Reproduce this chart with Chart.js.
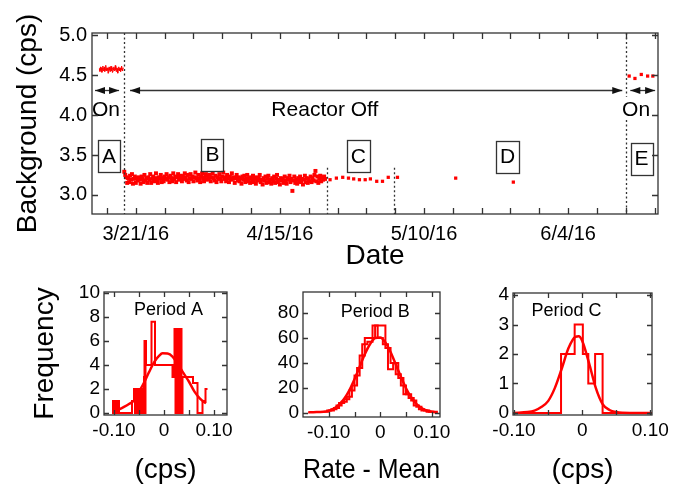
<!DOCTYPE html>
<html>
<head>
<meta charset="utf-8">
<title>Reactor background</title>
<script src="https://cdn.jsdelivr.net/npm/chart.js@4.4.1/dist/chart.umd.min.js"></script>
<style>
    html, body { margin: 0; padding: 0; background: #fff; }
    #wrap { position: relative; width: 680px; height: 487px; overflow: hidden; }
    #wrap canvas { position: absolute; left: 0; top: 0; }
</style>
</head>
<body>
<div id="wrap">
    <canvas id="mainChart" width="680" height="487"></canvas>
    <canvas id="histA" width="680" height="487"></canvas>
    <canvas id="histB" width="680" height="487"></canvas>
    <canvas id="histC" width="680" height="487"></canvas>
</div>
<script>
// Days are counted from 3/21/16
const xTickDays = [0, 25, 50, 75];
const xTickLabels = ['3/21/16', '4/15/16', '5/10/16', '6/4/16'];
const yTickValues = [3.0, 3.5, 4.0, 4.5, 5.0];

// period A: 2-hour runs, reactor on
const periodAStart = -6.3;
const periodAStep = 1 / 12;
const periodAValues = [
    4.58, 4.55, 4.60, 4.57, 4.59, 4.54, 4.58, 4.61, 4.56, 4.58,
    4.60, 4.55, 4.57, 4.62, 4.58, 4.56, 4.59, 4.57, 4.53, 4.58,
    4.60, 4.57, 4.55, 4.59, 4.61, 4.56, 4.58, 4.54, 4.59, 4.57,
    4.60, 4.56, 4.58, 4.62, 4.57, 4.55, 4.59, 4.58, 4.53, 4.57,
    4.60, 4.58, 4.56, 4.59, 4.55, 4.58, 4.61, 4.57, 4.56, 4.59
];

// period B: 4-hour runs, reactor off
const periodBStart = -2.0;
const periodBStep = 1 / 6;
const periodBValues = [
    3.29, 3.25, 3.22, 3.15, 3.21, 3.16, 3.24, 3.19, 3.26, 3.14, 3.20, 3.23, 3.15, 3.21, 3.18,
    3.22, 3.19, 3.14, 3.23, 3.20, 3.16, 3.25, 3.18, 3.21, 3.15, 3.22, 3.19, 3.26, 3.15, 3.20,
    3.23, 3.17, 3.21, 3.27, 3.19, 3.15, 3.22, 3.20, 3.25, 3.16, 3.21, 3.17, 3.23, 3.20, 3.26,
    3.19, 3.22, 3.16, 3.24, 3.21, 3.17, 3.27, 3.20, 3.23, 3.16, 3.22, 3.26, 3.19, 3.21, 3.24,
    3.17, 3.23, 3.20, 3.27, 3.22, 3.18, 3.25, 3.16, 3.21, 3.26, 3.20, 3.23, 3.17, 3.22, 3.28,
    3.21, 3.18, 3.25, 3.20, 3.16, 3.23, 3.27, 3.21, 3.17, 3.22, 3.26, 3.19, 3.24, 3.20, 3.25,
    3.17, 3.22, 3.27, 3.21, 3.18, 3.24, 3.16, 3.22, 3.20, 3.26, 3.21, 3.17, 3.23, 3.28, 3.20,
    3.22, 3.17, 3.25, 3.21, 3.16, 3.23, 3.19, 3.27, 3.20, 3.22, 3.15, 3.21, 3.25, 3.18, 3.22,
    3.17, 3.21, 3.14, 3.23, 3.19, 3.24, 3.16, 3.20, 3.25, 3.17, 3.21, 3.15, 3.22, 3.19, 3.24,
    3.16, 3.20, 3.14, 3.22, 3.18, 3.21, 3.25, 3.16, 3.19, 3.13, 3.21, 3.18, 3.23, 3.15, 3.20,
    3.24, 3.16, 3.19, 3.14, 3.21, 3.17, 3.23, 3.15, 3.20, 3.25, 3.16, 3.19, 3.13, 3.21, 3.18,
    3.20, 3.15, 3.23, 3.18, 3.14, 3.21, 3.19, 3.24, 3.16, 3.20, 3.05, 3.18, 3.23, 3.15, 3.19,
    3.14, 3.21, 3.17, 3.23, 3.16, 3.20, 3.13, 3.19, 3.24, 3.16, 3.21, 3.15, 3.20, 3.17, 3.23,
    3.16, 3.21, 3.18, 3.25, 3.30, 3.17, 3.23, 3.15, 3.20, 3.24, 3.17, 3.22, 3.19, 3.23, 3.20
];

const periodCDays = [33.7, 34.8, 35.9, 36.9, 37.8, 38.8, 39.8, 40.7, 41.8, 42.8, 43.8, 45.4];
const periodCValues = [3.19, 3.21, 3.22, 3.21, 3.20, 3.19, 3.19, 3.20, 3.17, 3.17, 3.22, 3.22];
const periodDDays = [55.5, 65.5];
const periodDValues = [3.21, 3.16];
const periodEDays = [85.6, 86.6, 87.7, 88.8, 89.7];
const periodEValues = [4.49, 4.46, 4.51, 4.49, 4.49];

// histograms of rate - mean (cps), bin left edge + count
const histAX = [-0.104, -0.102, -0.100, -0.098, -0.096, -0.094, -0.092, -0.090,
    -0.064, -0.060, -0.058, -0.056, -0.054, -0.052, -0.050, -0.048, -0.046, -0.044, -0.042, -0.040,
    -0.039, -0.038, -0.037, -0.036, -0.026, -0.025, -0.018, 0.005, 0.017,
    0.021, 0.023, 0.025, 0.027, 0.029, 0.031, 0.033, 0.035, 0.037, 0.052, 0.058, 0.067, 0.077, 0.083, 0.087];
const histACounts = [1, 0, 1, 0, 1, 0, 1, 0,
    1, 2, 0, 2, 0, 2, 0, 2, 0, 2, 0, 3,
    6, 0, 6, 4, 4, 7.6, 4, 4, 3,
    7, 0, 7, 0, 7, 0, 7, 0, 3, 3, 2.5, 0, 1, 2, 2];
const fitAX = [-0.096, -0.08, -0.07, -0.059, -0.05, -0.039, -0.03, -0.019, -0.01, -0.003,
    0.007, 0.017, 0.027, 0.037, 0.05, 0.061, 0.072, 0.084];
const fitAY = [0.17, 0.5, 0.75, 1.08, 1.75, 2.6, 3.4, 4.28, 4.75, 4.97,
    4.95, 4.7, 4.1, 3.44, 2.6, 1.78, 1.2, 0.8];

const histB1X = [-0.105, -0.095, -0.085, -0.075, -0.065, -0.055, -0.045, -0.035, -0.025, -0.015,
    -0.005, 0.005, 0.015, 0.025, 0.035, 0.045, 0.055, 0.065, 0.075, 0.085, 0.095, 0.105];
const histB1Counts = [2, 3, 6, 9, 13, 22, 36, 55, 57, 70, 60, 55, 35, 40, 28, 15, 12, 6, 3, 2, 1, 1];
const histB2X = [-0.110, -0.100, -0.090, -0.080, -0.070, -0.060, -0.050, -0.040, -0.030, -0.020,
    -0.010, 0.000, 0.010, 0.020, 0.030, 0.040, 0.050, 0.060, 0.070, 0.080, 0.090, 0.100, 0.110];
const histB2Counts = [1, 2, 4, 8, 11, 18, 30, 46, 60, 60, 70, 70, 52, 40, 31, 22, 15, 10, 5, 2, 1, 1, 0];
const fitBX = [-0.14, -0.13, -0.12, -0.11, -0.10, -0.09, -0.08, -0.07, -0.06, -0.05, -0.04, -0.03,
    -0.02, -0.01, 0.00, 0.01, 0.02, 0.03, 0.04, 0.05, 0.06, 0.07, 0.08, 0.09, 0.10, 0.11];
const fitBY = [0.5, 0.6, 0.8, 1.0, 1.7, 3.5, 6.6, 11.4, 18.2, 27, 37, 47,
    55, 60, 60.5, 56.5, 48.8, 39, 29, 19.8, 12.6, 7.4, 4, 2, 1, 0.5];

const histCX = [-0.102, -0.031, -0.011, 0.001, 0.009, 0.019, 0.030, 0.103];
const histCCounts = [0, 2, 3, 2, 1, 2, 0, 0];
const fitCX = [-0.1, -0.08, -0.07, -0.06, -0.05, -0.04, -0.03, -0.02, -0.01, -0.005,
    0.0, 0.01, 0.02, 0.03, 0.04, 0.05, 0.07, 0.1];
const fitCY = [0.0, 0.03, 0.08, 0.2, 0.4, 0.85, 1.5, 2.2, 2.58, 2.6,
    2.45, 1.7, 0.85, 0.3, 0.1, 0.03, 0.0, 0.0];

const histTickLabels = { '-0.1': '-0.10', '0': '0', '0.1': '0.10' };

// annotations of the top panel, in (day, cps)
const dividers = [
    { day: -2.1, spans: [[5.03, 2.76]] },
    { day: 33.1, spans: [[3.34, 2.76]] },
    { day: 44.8, spans: [[3.34, 2.76]] },
    { day: 85.1, spans: [[5.03, 4.23], [3.94, 2.76]] }
];
const arrowLevel = 4.315;
const arrows = [[-7.08, -2.9], [-1.0, 84.4], [85.8, 90.1]];
const stateLabels = [
    { text: 'On', day: -5.17, level: 4.06 },
    { text: 'Reactor Off', day: 32.8, level: 4.06 },
    { text: 'On', day: 86.8, level: 4.06 }
];
const periodBoxes = [
    { text: 'A', day: -4.65, level: 3.49 },
    { text: 'B', day: 13.3, level: 3.505 },
    { text: 'C', day: 38.6, level: 3.49 },
    { text: 'D', day: 64.5, level: 3.48 },
    { text: 'E', day: 87.75, level: 3.455 }
];

const RED = '#ff0000';
const INK = '#333333';
Chart.defaults.font.family = '"Liberation Sans", Arial, Helvetica, sans-serif';
Chart.defaults.color = '#000';

function pairs(xs, ys) {
    return xs.map((x, i) => ({ x, y: ys[i] }));
}

function evenSeries(start, step, values) {
    return values.map((v, i) => ({ x: start + i * step, y: v }));
}

// frame + inward tick marks on all four sides
const frameTicks = {
    id: 'frameTicks',
    afterDraw(chart, args, opts) {
        const { ctx, chartArea: a, scales } = chart;
        const len = opts.length || 5;
        ctx.save();
        ctx.strokeStyle = INK;
        ctx.lineWidth = 1.3;
        ctx.strokeRect(a.left, a.top, a.right - a.left, a.bottom - a.top);
        ctx.beginPath();
        scales.x.ticks.forEach(t => {
            const px = Math.round(scales.x.getPixelForValue(t.value)) + 0.5;
            ctx.moveTo(px, a.bottom); ctx.lineTo(px, a.bottom - len);
            ctx.moveTo(px, a.top); ctx.lineTo(px, a.top + len);
        });
        scales.y.ticks.forEach(t => {
            const py = Math.round(scales.y.getPixelForValue(t.value)) + 0.5;
            ctx.moveTo(a.left, py); ctx.lineTo(a.left + len, py);
            ctx.moveTo(a.right, py); ctx.lineTo(a.right - len, py);
        });
        ctx.stroke();
        ctx.restore();
    }
};

function drawArrow(ctx, x1, x2, y) {
    ctx.beginPath();
    ctx.moveTo(x1, y);
    ctx.lineTo(x2, y);
    ctx.stroke();
    [[x1, 1], [x2, -1]].forEach(([x, dir]) => {
        ctx.beginPath();
        ctx.moveTo(x, y);
        ctx.lineTo(x + dir * 10, y - 3.5);
        ctx.lineTo(x + dir * 10, y + 3.5);
        ctx.closePath();
        ctx.fill();
    });
}

const reactorNotes = {
    id: 'reactorNotes',
    afterDatasetsDraw(chart) {
        const { ctx, scales: { x, y } } = chart;
        ctx.save();
        ctx.strokeStyle = INK;
        ctx.fillStyle = '#111';
        ctx.lineWidth = 1.3;

        ctx.setLineDash([2, 2.5]);
        dividers.forEach(d => {
            const px = Math.round(x.getPixelForValue(d.day)) + 0.5;
            d.spans.forEach(([top, bottom]) => {
                ctx.beginPath();
                ctx.moveTo(px, y.getPixelForValue(top));
                ctx.lineTo(px, y.getPixelForValue(bottom));
                ctx.stroke();
            });
        });
        ctx.setLineDash([]);

        const ay = Math.round(y.getPixelForValue(arrowLevel)) + 0.5;
        arrows.forEach(([from, to]) => drawArrow(ctx, x.getPixelForValue(from), x.getPixelForValue(to), ay));

        ctx.font = '21px "Liberation Sans", Arial, sans-serif';
        ctx.textAlign = 'center';
        ctx.textBaseline = 'middle';
        ctx.fillStyle = '#000';
        stateLabels.forEach(l => ctx.fillText(l.text, x.getPixelForValue(l.day), y.getPixelForValue(l.level)));

        periodBoxes.forEach(b => {
            const cx = x.getPixelForValue(b.day);
            const cy = y.getPixelForValue(b.level);
            const w = ctx.measureText(b.text).width + 8;
            ctx.fillStyle = '#fff';
            ctx.fillRect(cx - w / 2, cy - 16, w, 32);
            ctx.strokeRect(Math.round(cx - w / 2) + 0.5, Math.round(cy - 16) + 0.5, Math.round(w), 32);
            ctx.fillStyle = '#000';
            ctx.fillText(b.text, cx, cy + 1);
        });
        ctx.restore();
    }
};

const panelLabel = {
    id: 'panelLabel',
    afterDatasetsDraw(chart, args, opts) {
        const { ctx, scales: { x, y } } = chart;
        ctx.save();
        ctx.font = '18px "Liberation Sans", Arial, sans-serif';
        ctx.textAlign = 'center';
        ctx.textBaseline = 'middle';
        ctx.fillStyle = '#000';
        ctx.fillText(opts.text, x.getPixelForValue(opts.x), y.getPixelForValue(opts.y));
        ctx.restore();
    }
};

function axisTitle(text) {
    return { display: !!text, text: text || '', font: { size: 28 }, padding: 0, color: '#000' };
}

new Chart(document.getElementById('mainChart'), {
    type: 'scatter',
    data: {
        datasets: [
            { data: evenSeries(periodAStart, periodAStep, periodAValues), showLine: true, borderColor: RED, borderWidth: 1,
              pointStyle: 'rect', pointRadius: 0.8, backgroundColor: RED, pointBorderWidth: 0 },
            { data: evenSeries(periodBStart, periodBStep, periodBValues), pointStyle: 'rect', pointRadius: 2.8,
              backgroundColor: RED, borderColor: RED, pointBorderWidth: 0 },
            { data: pairs(periodCDays, periodCValues), pointStyle: 'rect', pointRadius: 2.3,
              backgroundColor: RED, borderColor: RED, pointBorderWidth: 0 },
            { data: pairs(periodDDays, periodDValues), pointStyle: 'rect', pointRadius: 2.3,
              backgroundColor: RED, borderColor: RED, pointBorderWidth: 0 },
            { data: pairs(periodEDays, periodEValues), pointStyle: 'rect', pointRadius: 2.3,
              backgroundColor: RED, borderColor: RED, pointBorderWidth: 0 }
        ]
    },
    options: {
        responsive: false,
        animation: false,
        events: [],
        layout: { padding: { left: 11, top: 33, right: 22, bottom: 214 } },
        plugins: { legend: { display: false }, tooltip: { enabled: false }, frameTicks: { length: 6 } },
        scales: {
            x: {
                type: 'linear', min: -7.6, max: 90.6,
                afterBuildTicks: axis => {
                    const ticks = [];
                    for (let d = -5; d <= 90; d += 5) ticks.push({ value: d });
                    axis.ticks = ticks;
                },
                afterFit: s => { s.height = 59; },
                ticks: {
                    autoSkip: false, maxRotation: 0, padding: 8, font: { size: 20 }, color: '#000',
                    callback: v => { const i = xTickDays.indexOf(v); return i >= 0 ? xTickLabels[i] : ''; }
                },
                grid: { display: false, drawTicks: false },
                border: { display: false },
                title: axisTitle('Date')
            },
            y: {
                min: 2.76, max: 5.03,
                afterBuildTicks: axis => { axis.ticks = yTickValues.map(v => ({ value: v })); },
                afterFit: s => { s.width = 81; },
                ticks: { autoSkip: false, padding: 5, font: { size: 20 }, color: '#000', callback: v => v.toFixed(1) },
                grid: { display: false, drawTicks: false },
                border: { display: false },
                title: axisTitle('Background (cps)')
            }
        }
    },
    plugins: [reactorNotes, frameTicks]
});

function buildPanel(id, p) {
    const histSets = p.hists.map(h => ({
        data: h, showLine: true, stepped: 'before', borderColor: RED, borderWidth: 2,
        pointRadius: 0, fill: false
    }));
    return new Chart(document.getElementById(id), {
        type: 'scatter',
        data: {
            datasets: histSets.concat([{
                data: p.fit, showLine: true, cubicInterpolationMode: 'monotone', borderColor: RED,
                borderWidth: 2.5, pointRadius: 0, fill: false
            }])
        },
        options: {
            responsive: false,
            animation: false,
            events: [],
            layout: { padding: { left: p.padLeft, top: p.area.top, right: 680 - p.area.right, bottom: 0 } },
            plugins: {
                legend: { display: false }, tooltip: { enabled: false },
                frameTicks: { length: 5 },
                panelLabel: p.label
            },
            scales: {
                x: {
                    type: 'linear', min: p.xMin, max: p.xMax,
                    afterBuildTicks: axis => { axis.ticks = p.xTicks.map(v => ({ value: v })); },
                    afterFit: s => { s.height = 487 - p.area.bottom; },
                    ticks: {
                        autoSkip: false, maxRotation: 0, padding: 4, font: { size: 19 }, color: '#000',
                        callback: v => histTickLabels[String(v)] || ''
                    },
                    grid: { display: false, drawTicks: false },
                    border: { display: false },
                    title: axisTitle(p.xTitle)
                },
                y: {
                    min: p.yMin, max: p.yMax,
                    afterBuildTicks: axis => { axis.ticks = p.yTicks.map(v => ({ value: v })); },
                    afterFit: s => { s.width = p.area.left - p.padLeft; },
                    ticks: { autoSkip: false, padding: 4, font: { size: 19 }, color: '#000', callback: v => String(v) },
                    grid: { display: false, drawTicks: false },
                    border: { display: false },
                    title: axisTitle(p.yTitle)
                }
            }
        },
        plugins: [panelLabel, frameTicks]
    });
}

buildPanel('histA', {
    area: { left: 104, top: 292, right: 227, bottom: 415 }, padLeft: 28,
    xMin: -0.12, xMax: 0.126, yMin: -0.17, yMax: 10.08,
    xTicks: [-0.1, -0.05, 0, 0.05, 0.1], yTicks: [0, 2, 4, 6, 8, 10],
    hists: [pairs(histAX, histACounts)], fit: pairs(fitAX, fitAY),
    xTitle: '(cps)', yTitle: 'Frequency',
    label: { text: 'Period A', x: 0.009, y: 8.6 }
});

buildPanel('histB', {
    area: { left: 303, top: 292, right: 440, bottom: 417 }, padLeft: 200,
    xMin: -0.150, xMax: 0.116, yMin: -3.2, yMax: 96.8,
    xTicks: [-0.1, -0.05, 0, 0.05, 0.1], yTicks: [0, 20, 40, 60, 80],
    hists: [pairs(histB1X, histB1Counts), pairs(histB2X, histB2Counts)], fit: pairs(fitBX, fitBY),
    xTitle: 'Rate - Mean', yTitle: '',
    label: { text: 'Period B', x: -0.0097, y: 80.4 }
});

buildPanel('histC', {
    area: { left: 513, top: 293, right: 652, bottom: 415 }, padLeft: 400,
    xMin: -0.1015, xMax: 0.1025, yMin: -0.07, yMax: 4.07,
    xTicks: [-0.1, -0.05, 0, 0.05, 0.1], yTicks: [0, 1, 2, 3, 4],
    hists: [pairs(histCX, histCCounts)], fit: pairs(fitCX, fitCY),
    xTitle: '(cps)', yTitle: '',
    label: { text: 'Period C', x: -0.023, y: 3.46 }
});
</script>
</body>
</html>
